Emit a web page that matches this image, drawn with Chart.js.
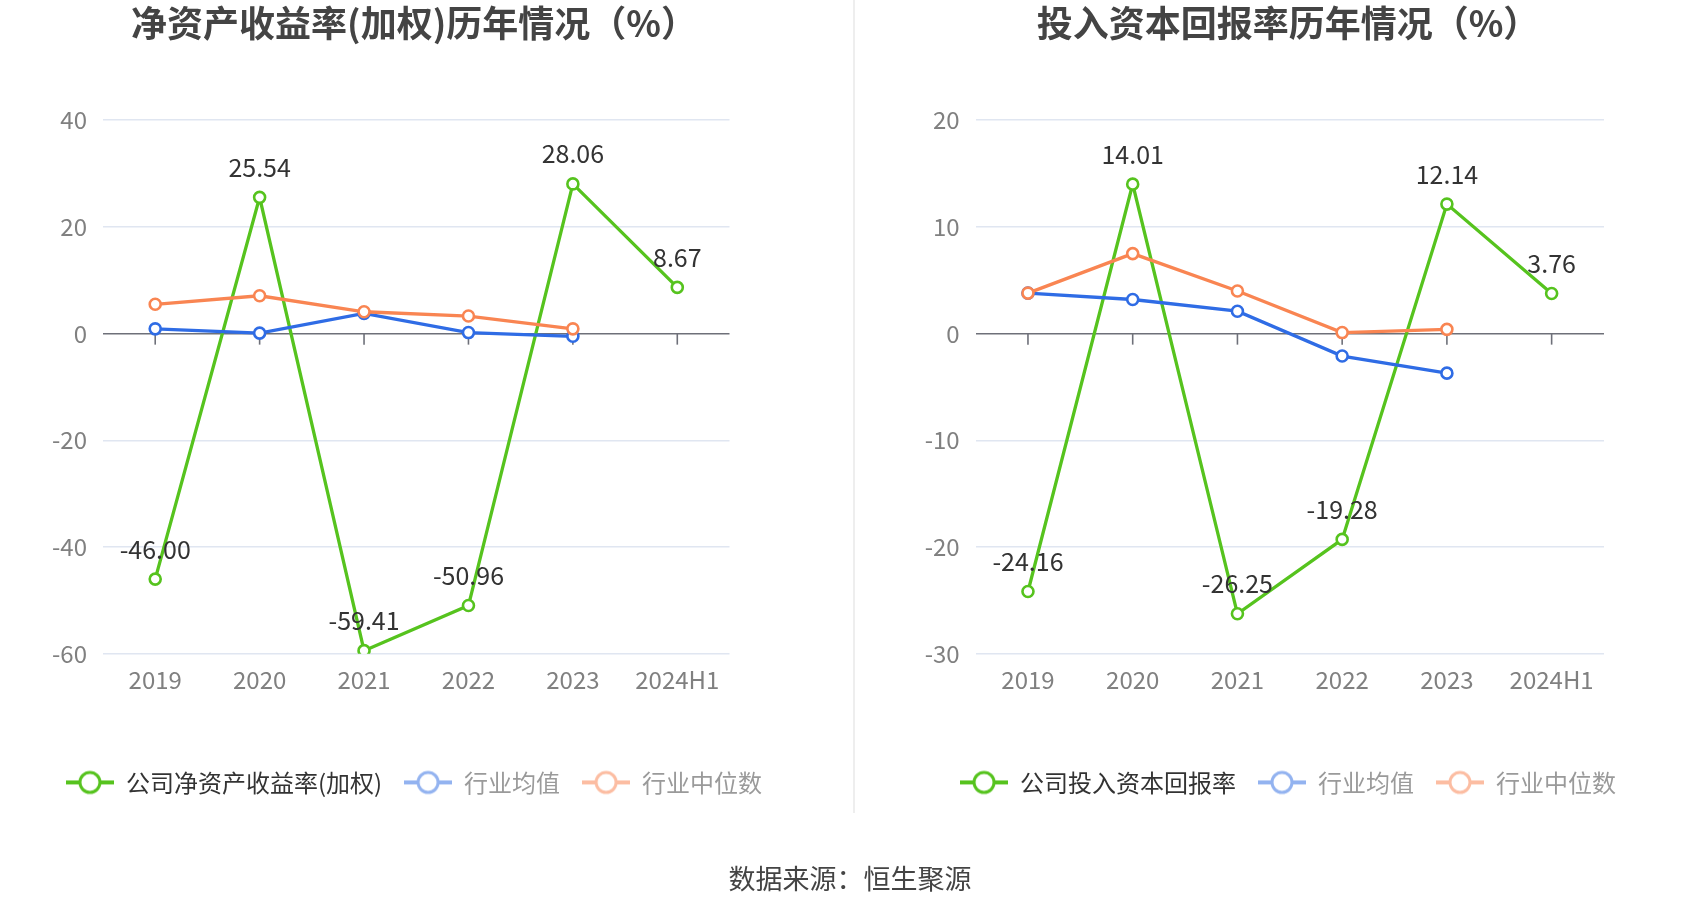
<!DOCTYPE html>
<html>
<head>
<meta charset="utf-8">
<script src="https://cdn.jsdelivr.net/npm/chart.js@4/dist/chart.umd.min.js"></script>
<style>
body{margin:0;background:#fff;width:1700px;height:918px;position:relative;overflow:hidden;font-family:"Noto Sans CJK SC","Noto Sans",sans-serif}
.box{position:absolute;top:0;height:918px}
#left{left:0;width:828px}
#right{left:876px;width:824px}
#divider{position:absolute;left:853px;top:0;width:1.5px;height:813px;background:#eee}
#source{position:absolute;left:0;width:1700px;top:859px;text-align:center;font-size:27px;line-height:38px;color:#444}
</style>
</head>
<body>
<div class="box" id="left"><canvas id="roe"></canvas></div>
<div id="divider"></div>
<div class="box" id="right"><canvas id="roic"></canvas></div>
<div id="source">数据来源：恒生聚源</div>
<script>
const years = ["2019", "2020", "2021", "2022", "2023", "2024H1"];

const roeCompany = [-46.00, 25.54, -59.41, -50.96, 28.06, 8.67];
const roeMean = [0.9, 0.1, 3.8, 0.2, -0.5];
const roeMedian = [5.5, 7.1, 4.1, 3.3, 0.9];
const roeTicks = [40, 20, 0, -20, -40, -60];

const roicCompany = [-24.16, 14.01, -26.25, -19.28, 12.14, 3.76];
const roicMean = [3.8, 3.2, 2.1, -2.1, -3.7];
const roicMedian = [3.8, 7.5, 4.0, 0.1, 0.4];
const roicTicks = [20, 10, 0, -10, -20, -30];

const FONT = '"Noto Sans CJK SC", "Noto Sans", sans-serif';
const GREEN = "#56C31E";
const BLUE = "#2F6CE5";
const ORANGE = "#F98552";

const lineColors = [GREEN, BLUE, ORANGE];
const legendColors = [GREEN, "#93B3F0", "#FCBDA2"];
const legendText = ["#333333", "#9a9a9a", "#9a9a9a"];

function legendIcon(color){
    const c = document.createElement("canvas");
    c.width = 48;
    c.height = 26;
    const g = c.getContext("2d");
    g.strokeStyle = color;
    g.lineWidth = 4;
    g.beginPath();
    g.moveTo(0, 13);
    g.lineTo(48, 13);
    g.stroke();
    g.beginPath();
    g.arc(24, 13, 10, 0, Math.PI * 2);
    g.fillStyle = "#fff";
    g.fill();
    g.lineWidth = 3;
    g.stroke();
    return c;
}
const icons = legendColors.map(legendIcon);

// short tick marks hanging under the zero line
const zeroTicks = {
    id: "zeroTicks",
    beforeDatasetsDraw(chart){
        const {ctx, scales: {x, y}} = chart;
        const y0 = y.getPixelForValue(0);
        ctx.save();
        ctx.strokeStyle = "#6E7079";
        ctx.lineWidth = 1.6;
        years.forEach((_, i) => {
            const px = x.getPixelForValue(i);
            ctx.beginPath();
            ctx.moveTo(px, y0);
            ctx.lineTo(px, y0 + 11);
            ctx.stroke();
        });
        ctx.restore();
    }
};

// value labels above the company series
const valueLabels = {
    id: "valueLabels",
    afterDatasetsDraw(chart){
        const ctx = chart.ctx;
        const values = chart.data.datasets[0].data;
        ctx.save();
        ctx.fillStyle = "#333";
        ctx.font = "25px " + FONT;
        ctx.textAlign = "center";
        ctx.textBaseline = "middle";
        chart.getDatasetMeta(0).data.forEach((pt, i) => {
            ctx.fillText(values[i].toFixed(2), pt.x, pt.y - 30);
        });
        ctx.restore();
    }
};

function makeChart(id, title, names, series, ticks, yWidth, rightWidth){
    new Chart(document.getElementById(id), {
        type: "line",
        data: {
            labels: years,
            datasets: series.map((d, i) => ({
                label: names[i],
                data: d,
                borderColor: lineColors[i],
                backgroundColor: "#fff",
                pointBackgroundColor: "#fff",
                pointBorderColor: lineColors[i],
                pointRadius: 5.5,
                pointBorderWidth: 2.6,
                borderWidth: 3.3,
                tension: 0,
                order: 3 - i
            }))
        },
        options: {
            responsive: true,
            maintainAspectRatio: false,
            animation: false,
            layout: {padding: {left: 0, right: 0, top: 0, bottom: 113.6}},
            plugins: {
                title: {
                    display: true,
                    text: title,
                    color: "#444",
                    font: {size: 36, weight: "bold", family: FONT},
                    padding: {top: 2, bottom: 75}
                },
                legend: {
                    position: "bottom",
                    labels: {
                        usePointStyle: true,
                        pointStyleWidth: 48,
                        boxHeight: 24,
                        padding: 22,
                        font: {size: 24, family: FONT},
                        generateLabels: chart => chart.data.datasets.map((ds, i) => ({
                            text: ds.label,
                            fillStyle: "#fff",
                            strokeStyle: legendColors[i],
                            pointStyle: icons[i],
                            fontColor: legendText[i],
                            lineWidth: 0,
                            hidden: false,
                            datasetIndex: i
                        }))
                    }
                },
                tooltip: {enabled: false}
            },
            scales: {
                x: {
                    offset: true,
                    grid: {display: false, drawTicks: false},
                    border: {display: false},
                    ticks: {color: "#808080", font: {size: 24, family: FONT}, padding: 12, maxRotation: 0, autoSkip: false},
                    afterFit: s => { s.height = 94.6; }
                },
                y: {
                    min: Math.min(...ticks),
                    max: Math.max(...ticks),
                    grid: {
                        color: c => (c.tick && c.tick.value === 0) ? "#6E7079" : "#E0E6F1",
                        lineWidth: 1.6,
                        drawTicks: false
                    },
                    border: {display: false},
                    ticks: {stepSize: ticks[0] - ticks[1], color: "#808080", font: {size: 24, family: FONT}, padding: 16},
                    afterFit: s => { s.width = yWidth; }
                },
                // empty spacer on the right so the legend can centre on the whole panel
                spacer: {
                    type: "linear",
                    position: "right",
                    grid: {display: false, drawTicks: false},
                    border: {display: false},
                    ticks: {display: false},
                    afterFit: s => { s.width = rightWidth; }
                }
            }
        },
        plugins: [zeroTicks, valueLabels]
    });
}

makeChart("roe", "净资产收益率(加权)历年情况（%）",
    ["公司净资产收益率(加权)", "行业均值", "行业中位数"],
    [roeCompany, roeMean, roeMedian], roeTicks, 103, 98.5);

makeChart("roic", "投入资本回报率历年情况（%）",
    ["公司投入资本回报率", "行业均值", "行业中位数"],
    [roicCompany, roicMean, roicMedian], roicTicks, 99.6, 96);
</script>
</body>
</html>
